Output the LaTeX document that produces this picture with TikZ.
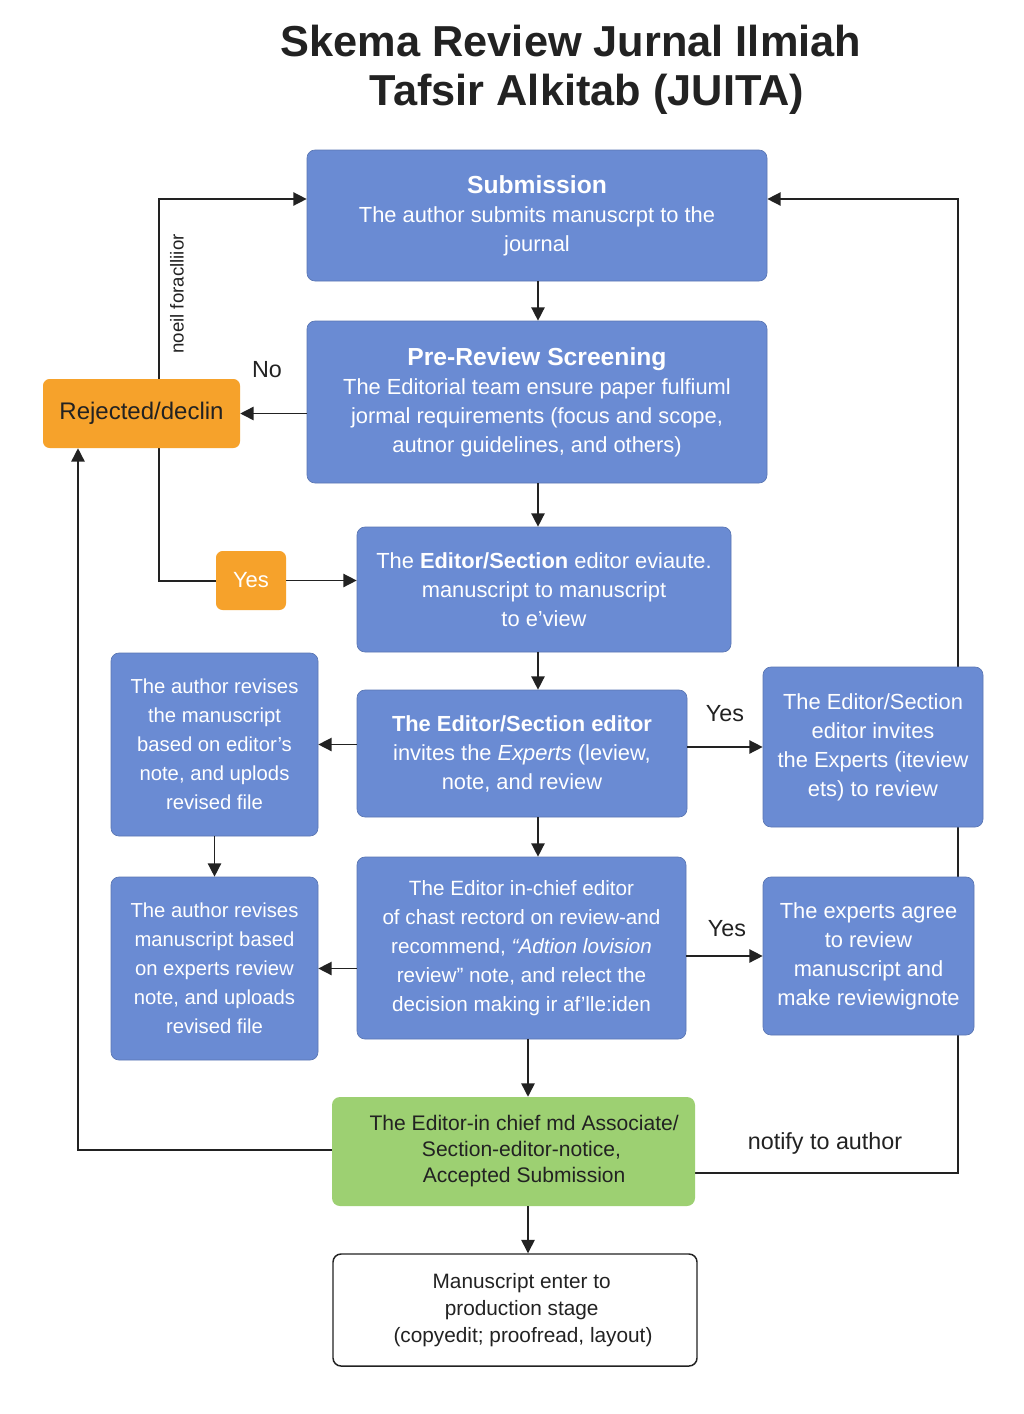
\documentclass[tikz,border=0pt]{standalone}
\usepackage{fontspec}
\setmainfont{Liberation Sans}
\usetikzlibrary{arrows.meta,backgrounds}
\definecolor{boxblue}{HTML}{6A8BD3}
\definecolor{boxorange}{HTML}{F6A22B}
\definecolor{boxgreen}{HTML}{9DD072}
\definecolor{linecol}{HTML}{222222}
\newcommand\jbody{\fontsize{16.4}{21.75}\selectfont}
\newcommand\jhead{\fontsize{18.5}{22}\selectfont\bfseries}
\begin{document}
\begin{tikzpicture}[x=0.75pt,y=-0.75pt,
  bbox/.style={rectangle, rounded corners=6pt, fill=boxblue, draw=boxblue!85!black, line width=0.5pt, text=white, align=center, inner sep=0pt, font=\jbody},
  obox/.style={rectangle, rounded corners=5pt, fill=boxorange, draw=none, align=center, inner sep=0pt},
  gbox/.style={rectangle, rounded corners=6pt, fill=boxgreen, draw=none, text=linecol, align=center, inner sep=0pt, font=\fontsize{15.8}{19.5}\selectfont},
  wbox/.style={rectangle, rounded corners=6pt, fill=white, draw=linecol, line width=1.1pt, text=linecol, align=center, inner sep=0pt, font=\fontsize{15.6}{20.25}\selectfont},
  arr/.style={draw=linecol, line width=1.1pt, -{Triangle[length=10pt,width=10pt]}},
  ln/.style={draw=linecol, line width=1.1pt},
  lbl/.style={text=linecol, font=\fontsize{17.5}{20}\selectfont, inner sep=0pt}]
\useasboundingbox (0,0) rectangle (1024,1414);

% title
\node[text=linecol, font=\fontsize{32.5}{40}\selectfont\bfseries, inner sep=0pt] (t1) at (571,41) {Skema Review Jurnal Ilmiah};
\node[text=linecol, font=\fontsize{32.5}{40}\selectfont\bfseries, inner sep=0pt] (t2) at (587,94) {Tafsir Alkitab (JUITA)};

% boxes
\node[bbox, minimum width=345pt, minimum height=98.25pt] (sub) at (537,215.5)
  {{\jhead Submission}\\The author submits manuscrpt to the\\journal};
\node[bbox, minimum width=345pt, minimum height=121.5pt] (pre) at (537,402)
  {{\jhead Pre-Review Screening}\\The Editorial team ensure paper fulfiuml\\jormal requirements (focus and scope,\\autnor guidelines, and others)};
\node[obox, minimum width=147.75pt, minimum height=51.75pt, text=linecol, font=\fontsize{18}{20}\selectfont] (rej) at (141.5,413.5) {Rejected/declin};
\node[bbox, minimum width=280.5pt, minimum height=93.75pt] (eval) at (544,589.5)
  {The \textbf{Editor/Section} editor eviaute.\\manuscript to manuscript\\to e’view};
\node[obox, minimum width=52.5pt, minimum height=44.25pt, text=white, font=\fontsize{16.5}{20}\selectfont] (yes) at (251,580.5) {Yes};
\node[bbox, minimum width=155.25pt, minimum height=137.25pt, font=\fontsize{15.2}{21.75}\selectfont] (auth1) at (214.5,744.5)
  {The author revises\\the manuscript\\based on editor’s\\note, and uplods\\revised file};
\node[bbox, minimum width=247.5pt, minimum height=95.25pt] (inv) at (522,753.5)
  {\textbf{The Editor/Section editor}\\invites the \textit{Experts} (leview,\\note, and review};
\node[bbox, minimum width=165pt, minimum height=120pt] (inv2) at (873,747)
  {The Editor/Section\\editor invites\\the Experts (iteview\\ets) to review};
\node[bbox, minimum width=155.25pt, minimum height=137.25pt, font=\fontsize{15.2}{21.75}\selectfont] (auth2) at (214.5,968.5)
  {The author revises\\manuscript based\\on experts review\\note, and uploads\\revised file};
\node[bbox, minimum width=246.75pt, minimum height=136.5pt, font=\fontsize{15.5}{21.75}\selectfont] (chief) at (521.5,948)
  {The Editor in-chief editor\\of chast rectord on review-and\\recommend, \textit{“Adtion lovision}\\review” note, and relect the\\decision making ir af’lle:iden};
\node[bbox, minimum width=158.25pt, minimum height=118.5pt] (exp) at (868.5,956)
  {The experts agree\\to review\\manuscript and\\make reviewignote};
\node[gbox, minimum width=272.25pt, minimum height=81.75pt] (green) at (513.5,1151.5)
  {\hspace*{16pt}The Editor-in chief md Associate/\\\hspace*{12pt}Section-editor-notice,\\\hspace*{16pt}Accepted Submission};
\node[wbox, minimum width=273pt, minimum height=84pt] (prod) at (515,1310)
  {\hspace*{10pt}Manuscript enter to\\\hspace*{10pt}production stage\\\hspace*{12pt}(copyedit; proofread, layout)};

% helper coordinates
\coordinate (c1) at (159,199);
\coordinate (c2) at (159,581);
\coordinate (vx) at (538,0);
\coordinate (vx2) at (528,0);
\coordinate (c4) at (78,1150);
\coordinate (c5) at (958,1173);
\coordinate (c6) at (958,199);

% connectors
\draw[arr] (sub.south -| vx) -- (pre.north -| vx);
\draw[arr] (pre.west |- rej.east) -- (rej.east);
\draw[arr] (rej.north -| c1) -- (c1) -- (sub.west |- c1);
\begin{scope}[on background layer]
\fill[white] (0,0) rectangle (1024,1414);
\draw[ln] (rej.south -| c2) -- (c2) -- (yes.west |- c2);
\draw[arr] (green.east |- c5) -- (c5) -- (c6) -- (sub.east |- c6);
\end{scope}
\draw[arr] (yes.east) -- (eval.west |- yes.east);
\draw[arr] (pre.south -| vx) -- (eval.north -| vx);
\draw[arr] (eval.south -| vx) -- (inv.north -| vx);
\draw[arr] (inv.west |- auth1.east) -- (auth1.east);
\draw[arr] (inv.east |- inv2.west) -- (inv2.west);
\draw[arr] (auth1.south) -- (auth2.north);
\draw[arr] (inv.south -| vx) -- (chief.north -| vx);
\draw[arr] (chief.west |- auth2.east) -- (auth2.east);
\draw[arr] (chief.east |- exp.west) -- (exp.west);
\draw[arr] (chief.south -| vx2) -- (green.north -| vx2);
\draw[arr] (green.west |- c4) -- (c4) -- (c4 |- rej.south);
\draw[arr] (green.south -| vx2) -- (prod.north -| vx2);

% labels
\node[lbl] (lno) at (267,370) {No};
\node[lbl] (lyes1) at (725,714) {Yes};
\node[lbl] (lyes2) at (727,929) {Yes};
\node[lbl] (lnot) at (825,1143) {notify to author};
\node[text=linecol, font=\fontsize{14}{16}\selectfont, inner sep=0pt, rotate=90] (lrot) at (177,294) {noeil foraclliior};
\end{tikzpicture}
\end{document}
